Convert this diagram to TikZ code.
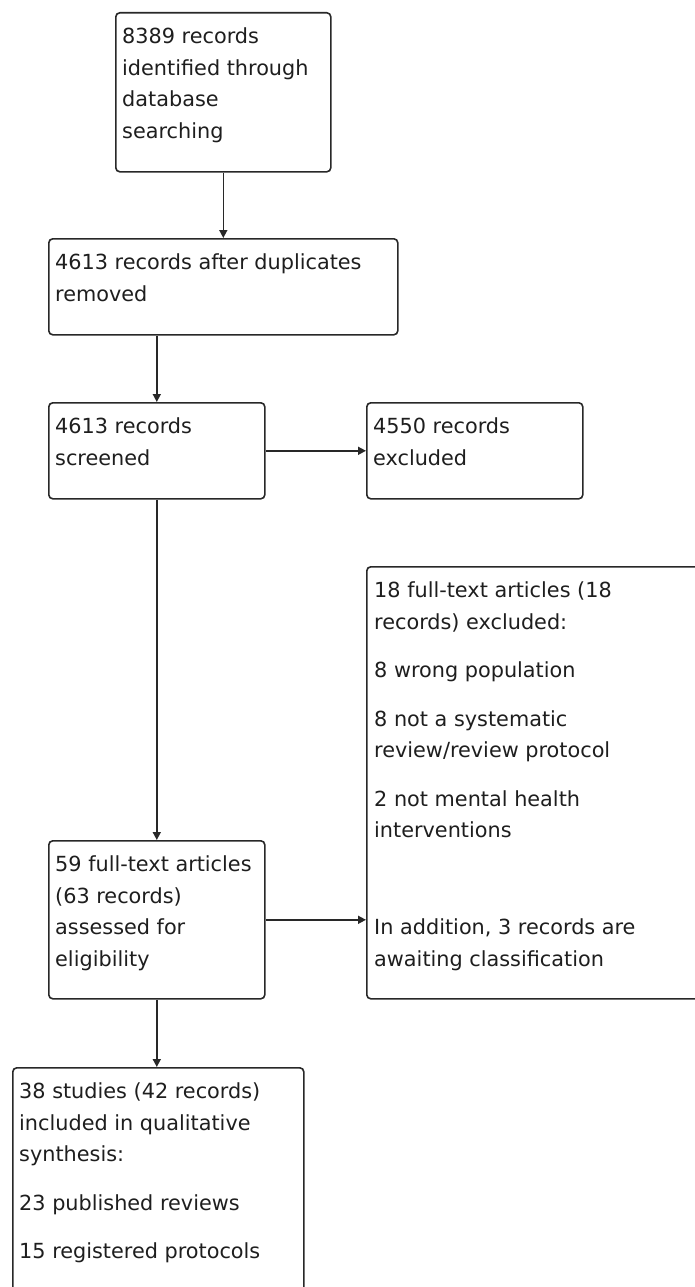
\documentclass[tikz,border=0pt]{standalone}
\usepackage{fontspec}
\setmainfont{DejaVu Sans}
\usetikzlibrary{arrows.meta}
\definecolor{ln}{RGB}{40,40,40}
\definecolor{tx}{RGB}{30,30,30}
\tikzset{
  box/.style={draw=ln, line width=1.6pt, rounded corners=4pt, inner sep=0pt, anchor=north west},
  txt/.style={inner sep=0pt, align=left, anchor=north west, text=tx,
    font=\fontsize{20.8pt}{31.5pt}\selectfont},
  conn/.style={draw=ln, line width=1.6pt, -{Triangle[length=8pt,width=8pt]}},
}
\newcommand{\pgap}{\\[17pt]}
\begin{document}
\begin{tikzpicture}[x=1pt,y=-1pt]
\useasboundingbox (0,0) rectangle (695,1287);
% boxes
\node[box, minimum width=215pt, minimum height=159pt] (b1) at (115,12) {};
\node[box, minimum width=349pt, minimum height=96pt] (b2) at (48,238) {};
\node[box, minimum width=216pt, minimum height=96pt] (b3) at (48,402) {};
\node[box, minimum width=216pt, minimum height=96pt] (b4) at (366,402) {};
\node[box, minimum width=340pt, minimum height=432pt] (b5) at (366,566) {};
\node[box, minimum width=216pt, minimum height=158pt] (b6) at (48,840) {};
\node[box, minimum width=291pt, minimum height=240pt] (b7) at (12,1067) {};
% texts
\node[txt] (t1) at ([shift={(7pt,-9.5pt)}]b1.north west) {\strut 8389 records\\identified through\\database\\searching};
\node[txt] (t2) at ([shift={(7pt,-9.5pt)}]b2.north west) {\strut 4613 records after duplicates\\removed};
\node[txt] (t3) at ([shift={(7pt,-9.5pt)}]b3.north west) {\strut 4613 records\\screened};
\node[txt] (t4) at ([shift={(7pt,-9.5pt)}]b4.north west) {\strut 4550 records\\excluded};
\node[txt] (t5) at ([shift={(8pt,-9.5pt)}]b5.north west) {\strut 18 full-text articles (18\\records) excluded:\pgap 8 wrong population\pgap 8 not a systematic\\review/review protocol\pgap 2 not mental health\\interventions\pgap \mbox{}\pgap In addition, 3 records are\\awaiting classification};
\node[txt] (t6) at ([shift={(7pt,-9.5pt)}]b6.north west) {\strut 59 full-text articles\\(63 records)\\assessed for\\eligibility};
\node[txt] (t7) at ([shift={(7pt,-9.5pt)}]b7.north west) {\strut 38 studies (42 records)\\included in qualitative\\synthesis:\pgap 23 published reviews\pgap 15 registered protocols};
% connectors
\draw[conn] (b1.south) -- (b1.south |- b2.north);
\draw[conn] (b3.north |- b2.south) -- (b3.north);
\draw[conn] (b3.east) -- (b4.west);
\draw[conn] (b3.south) -- (b6.north);
\draw[conn] (b6.east) -- (b6.east -| b5.west);
\draw[conn] (b6.south) -- (b6.south |- b7.north);
\end{tikzpicture}
\end{document}
